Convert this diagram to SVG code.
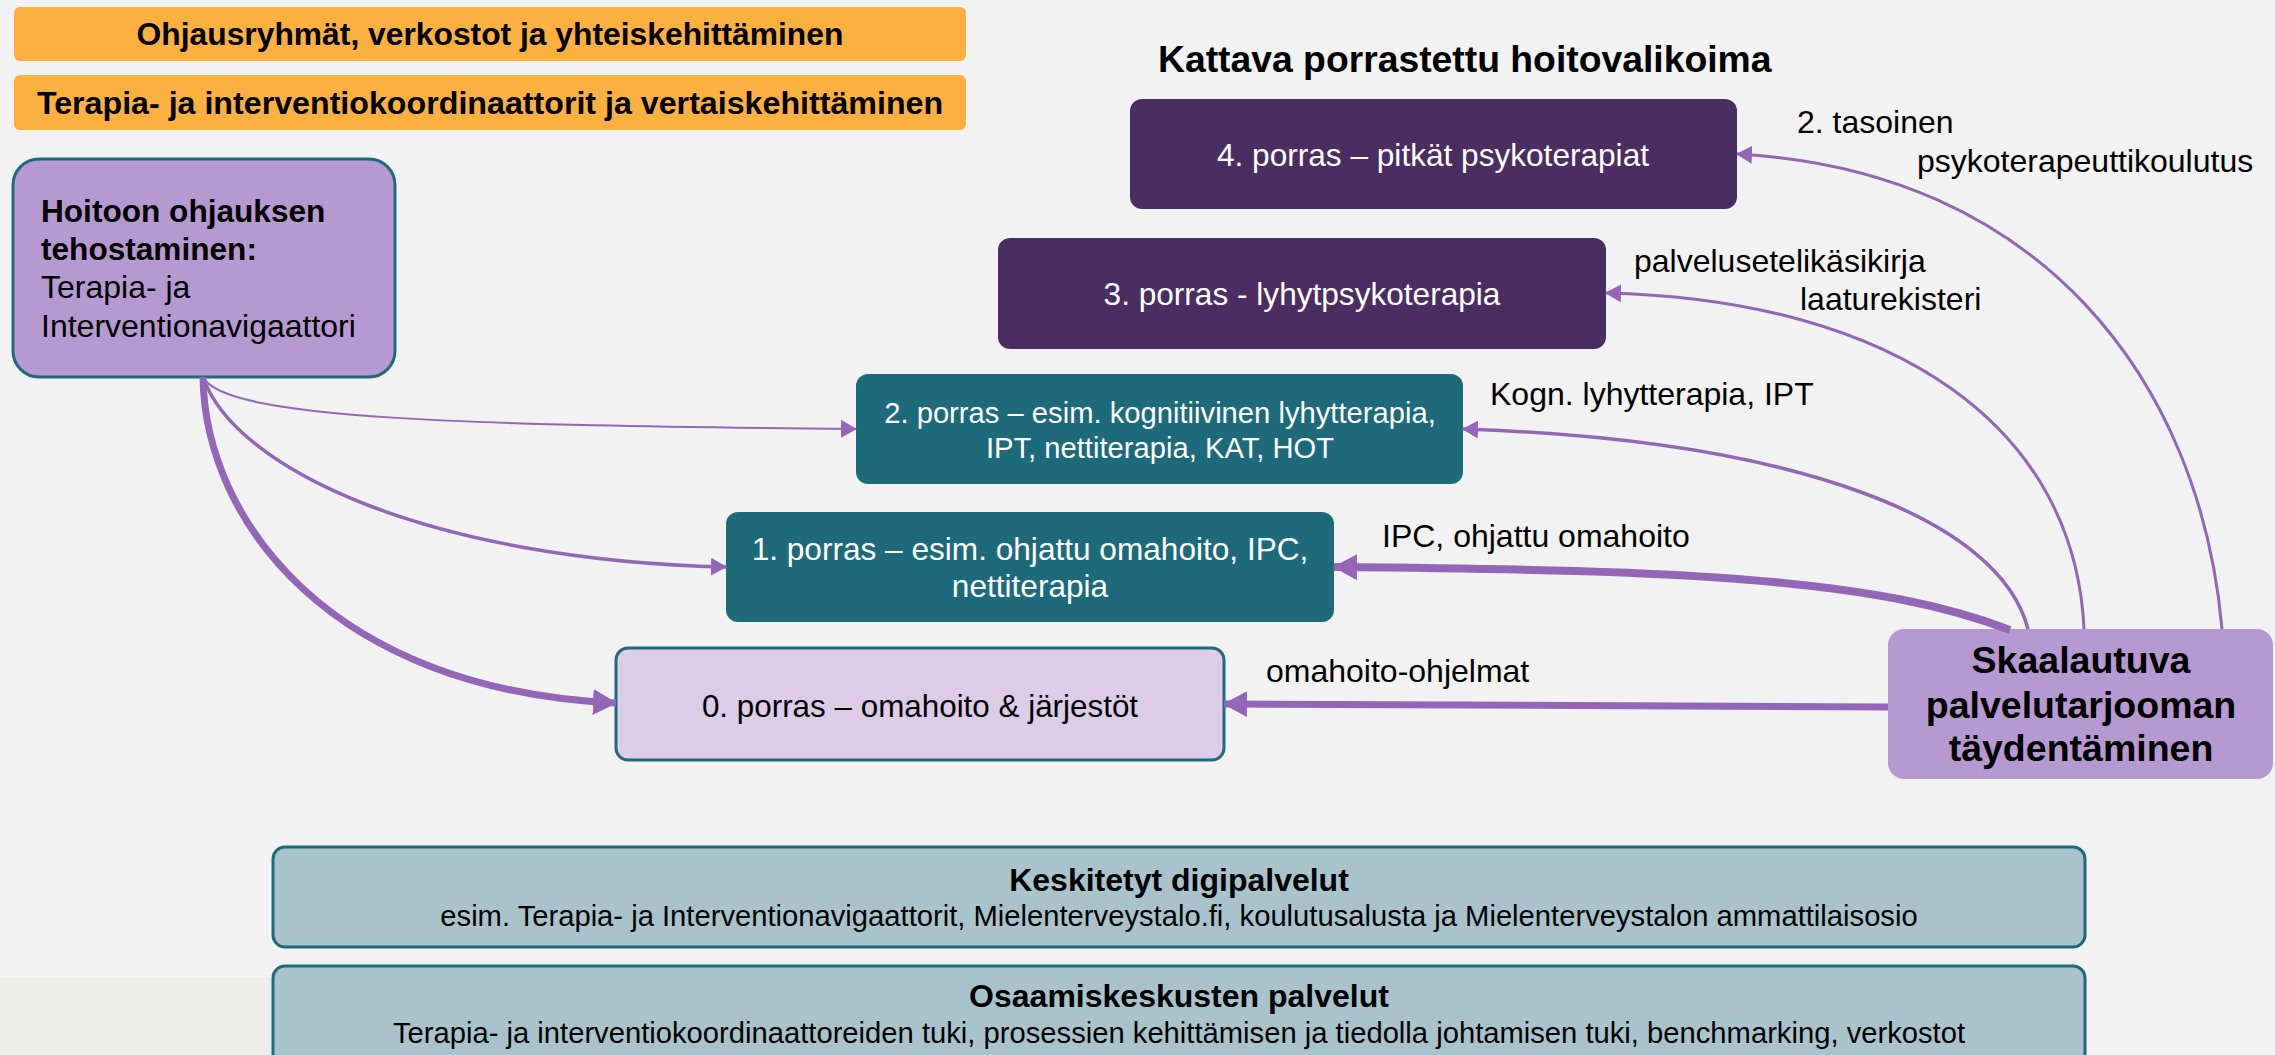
<svg xmlns="http://www.w3.org/2000/svg" width="2275" height="1055" viewBox="0 0 2275 1055">
<defs>
<style>
text{font-family:"Liberation Sans",Arial,sans-serif;}
.b{font-weight:bold;}
.w{fill:#ffffff;}
.k{fill:#000000;}
.c{text-anchor:middle;}
.ban{fill:#fbb040;}
.dp{fill:#4b2d62;}
.tl{fill:#1d6a7a;}
.lp{fill:#b799d1;}
.lv{fill:#dccce8;stroke:#1d6a7a;stroke-width:3;}
.bg{fill:#a9c3cd;stroke:#1d6a7a;stroke-width:3;}
.con{fill:none;stroke:#9466b8;}
</style>
<marker id="aS" markerUnits="userSpaceOnUse" markerWidth="16" markerHeight="18" refX="15" refY="9" orient="auto"><path d="M0,0 L16,9 L0,18 Z" fill="#9466b8"/></marker>
<marker id="aL" markerUnits="userSpaceOnUse" markerWidth="24" markerHeight="26" refX="23" refY="13" orient="auto"><path d="M0,0 L24,13 L0,26 Z" fill="#9466b8"/></marker>
</defs>
<rect x="0" y="0" width="2275" height="1055" fill="#f2f2f2"/>
<rect x="0" y="978" width="275" height="77" fill="#edeee9"/>

<g id="banner1"><rect class="ban" x="14" y="7" width="952" height="54" rx="6"/><text class="b k c" x="490" y="45" font-size="31.8">Ohjausryhmät, verkostot ja yhteiskehittäminen</text></g>
<g id="banner2"><rect class="ban" x="14" y="75" width="952" height="55" rx="6"/><text class="b k c" x="490" y="114" font-size="32.2">Terapia- ja interventiokoordinaattorit ja vertaiskehittäminen</text></g>

<g id="title"><text class="b k" x="1158" y="72" font-size="37.3">Kattava porrastettu hoitovalikoima</text></g>

<g id="navigator"><rect class="lp" x="13" y="159" width="382" height="218" rx="26" stroke="#1d6a7a" stroke-width="3"/>
<text class="k" x="41"><tspan class="b" x="41" y="222" font-size="31.6">Hoitoon ohjauksen</tspan><tspan class="b" x="41" y="260" font-size="31.6">tehostaminen:</tspan><tspan x="41" y="298" font-size="32">Terapia- ja</tspan><tspan x="41" y="337" font-size="32">Interventionavigaattori</tspan></text></g>

<g id="step4"><rect class="dp" x="1130" y="99" width="607" height="110" rx="12"/><text class="w c" x="1433" y="166" font-size="31.6">4. porras – pitkät psykoterapiat</text></g>
<g id="step3"><rect class="dp" x="998" y="238" width="608" height="111" rx="12"/><text class="w c" x="1302" y="305" font-size="31.6">3. porras - lyhytpsykoterapia</text></g>
<g id="step2"><rect class="tl" x="856" y="374" width="607" height="110" rx="12"/><text class="w c" font-size="29.2"><tspan x="1160" y="423">2. porras – esim. kognitiivinen lyhytterapia,</tspan><tspan x="1160" y="458">IPT, nettiterapia, KAT, HOT</tspan></text></g>
<g id="step1"><rect class="tl" x="726" y="512" width="608" height="110" rx="12"/><text class="w c" font-size="31.6"><tspan x="1030" y="560">1. porras – esim. ohjattu omahoito, IPC,</tspan><tspan x="1030" y="597">nettiterapia</tspan></text></g>
<g id="step0"><rect class="lv" x="616" y="648" width="608" height="112" rx="12"/><text class="k c" x="920" y="717" font-size="31.4">0. porras – omahoito &amp; järjestöt</text></g>

<g id="scalable"><rect class="lp" x="1888" y="629" width="385" height="150" rx="16"/><text class="b k c" font-size="37.5"><tspan x="2081" y="673">Skaalautuva</tspan><tspan x="2081" y="718">palvelutarjooman</tspan><tspan x="2081" y="761">täydentäminen</tspan></text></g>

<g id="digi"><rect class="bg" x="273" y="847" width="1812" height="100" rx="12"/><text class="k c"><tspan class="b" x="1179" y="891" font-size="32">Keskitetyt digipalvelut</tspan><tspan x="1179" y="926" font-size="29.2">esim. Terapia- ja Interventionavigaattorit, Mielenterveystalo.fi, koulutusalusta ja Mielenterveystalon ammattilaisosio</tspan></text></g>
<g id="osaamis"><rect class="bg" x="273" y="966" width="1812" height="110" rx="12"/><text class="k c"><tspan class="b" x="1179" y="1007" font-size="32">Osaamiskeskusten palvelut</tspan><tspan x="1179" y="1043" font-size="29.2">Terapia- ja interventiokoordinaattoreiden tuki, prosessien kehittämisen ja tiedolla johtamisen tuki, benchmarking, verkostot</tspan></text></g>

<g id="labels" class="k" font-size="32">
<text x="1797" y="133">2. tasoinen</text>
<text x="1917" y="172">psykoterapeuttikoulutus</text>
<text x="1634" y="272">palvelusetelikäsikirja</text>
<text x="1800" y="310">laaturekisteri</text>
<text x="1490" y="405">Kogn. lyhytterapia, IPT</text>
<text x="1382" y="547">IPC, ohjattu omahoito</text>
<text x="1266" y="682">omahoito-ohjelmat</text>
</g>

<g id="connectors">
<path class="con" stroke-width="2" d="M203,377 C225,420 470,425 856,429" marker-end="url(#aS)"/>
<path class="con" stroke-width="3.5" d="M203,377 C235,470 430,560 726,567" marker-end="url(#aS)"/>
<path class="con" stroke-width="7" d="M203,377 C205,520 330,690 616,703" marker-end="url(#aL)"/>
<path class="con" stroke-width="3" d="M2222,629 C2200,380 2040,170 1737,154" marker-end="url(#aS)"/>
<path class="con" stroke-width="3" d="M2084,629 C2075,430 1900,300 1606,293" marker-end="url(#aS)"/>
<path class="con" stroke-width="3.5" d="M2028,629 C2000,520 1800,440 1463,429" marker-end="url(#aS)"/>
<path class="con" stroke-width="8" d="M2010,630 C1880,580 1700,570 1334,567" marker-end="url(#aL)"/>
<path class="con" stroke-width="7" d="M1888,707 L1224,704" marker-end="url(#aL)"/>
</g>
</svg>
